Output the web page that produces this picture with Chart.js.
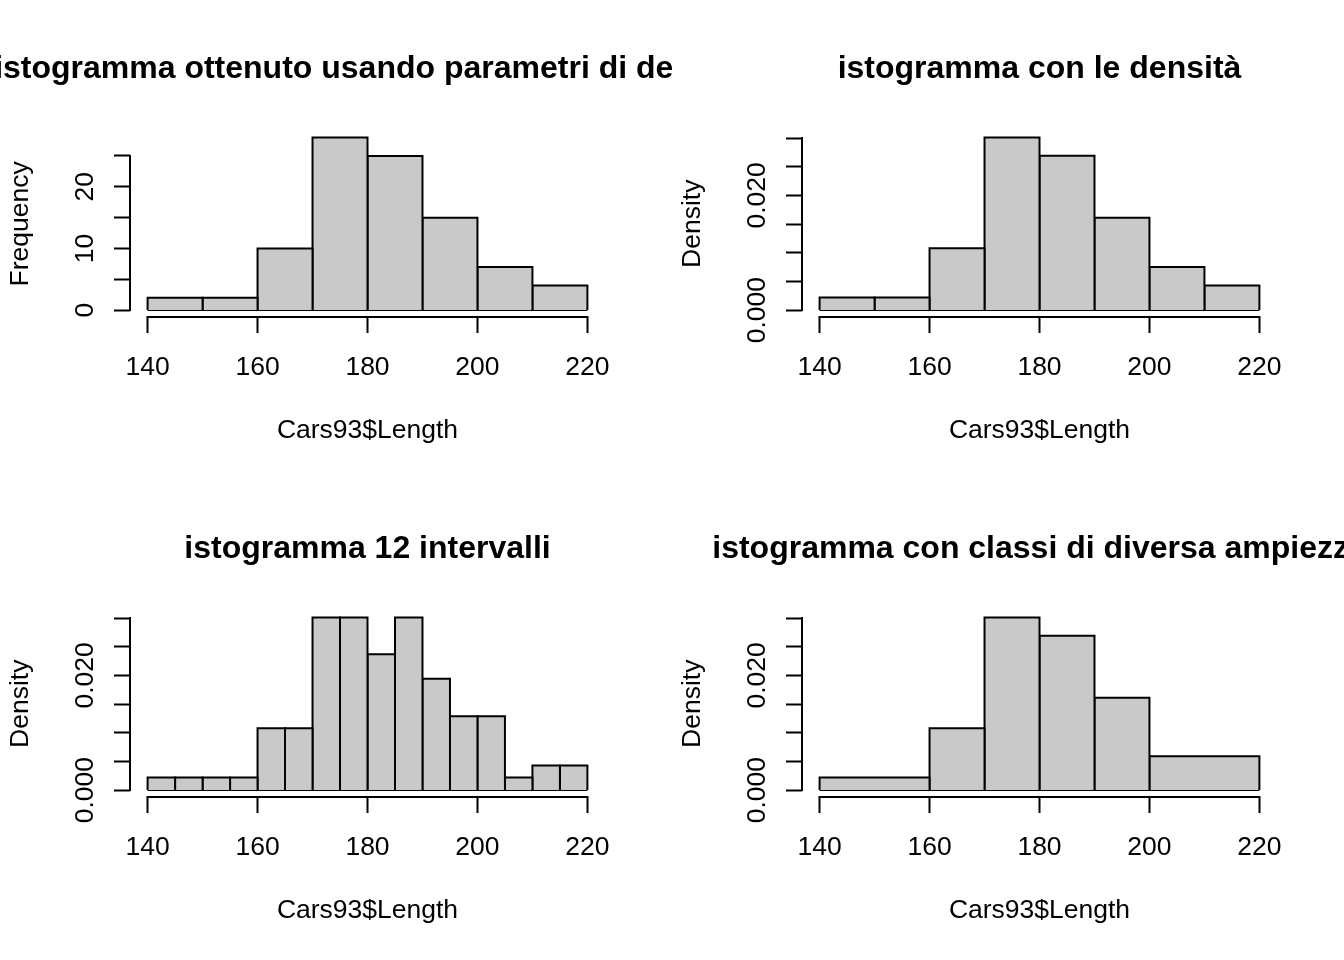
<!DOCTYPE html>
<html>
<head>
<meta charset="utf-8">
<script src="https://cdn.jsdelivr.net/npm/chart.js@4.4.0/dist/chart.umd.min.js"></script>
<style>
  body { margin: 0; background: #fff; }
  #grid { display: grid; grid-template-columns: 672px 672px; grid-template-rows: 480px 480px; width: 1344px; height: 960px; }
  canvas { display: block; }
</style>
</head>
<body>
<div id="grid">
  <canvas id="histDefault" width="672" height="480"></canvas>
  <canvas id="histDensity" width="672" height="480"></canvas>
  <canvas id="hist12" width="672" height="480"></canvas>
  <canvas id="histUneven" width="672" height="480"></canvas>
</div>
<script>
// class breaks (Cars93$Length)
const breaks10 = [140, 150, 160, 170, 180, 190, 200, 210, 220];
const breaks5 = [140, 145, 150, 155, 160, 165, 170, 175, 180, 185, 190, 195, 200, 205, 210, 215, 220];
const breaksUneven = [140, 160, 170, 180, 190, 200, 220];

// bar heights
const freq10 = [2, 2, 10, 28, 25, 15, 7, 4];
const dens10 = [0.0022, 0.0022, 0.0108, 0.0301, 0.0269, 0.0161, 0.0075, 0.0043];
const dens5 = [0.0022, 0.0022, 0.0022, 0.0022, 0.0108, 0.0108, 0.0301, 0.0301,
               0.0237, 0.0301, 0.0194, 0.0129, 0.0129, 0.0022, 0.0043, 0.0043];
const densUneven = [0.0022, 0.0108, 0.0301, 0.0269, 0.0161, 0.0059];

// axis ticks
const xTicks = [140, 160, 180, 200, 220];
const freqTicks = [0, 5, 10, 15, 20, 25];
const freqLabels = [0, 10, 20];
const densTicks = [0, 0.005, 0.01, 0.015, 0.02, 0.025, 0.03];
const densLabels = [0, 0.02];

const xTitle = 'Cars93$Length';
const titles = [
  'istogramma ottenuto usando parametri di default',
  'istogramma con le densità',
  'istogramma 12 intervalli',
  'istogramma con classi di diversa ampiezza'
];

const FONT = "'Liberation Sans', Arial, Helvetica, sans-serif";
Chart.defaults.font.family = FONT;
Chart.defaults.color = '#000';

// R style: detached axis lines, rotated y labels, main title
const rAxes = {
  id: 'rAxes',
  afterDraw(chart, args, opts) {
    const { ctx, chartArea: a, scales: { x, y } } = chart;
    ctx.save();
    ctx.strokeStyle = '#000';
    ctx.lineWidth = 2;
    ctx.beginPath();
    ctx.moveTo(x.getPixelForValue(xTicks[0]) - 1, a.bottom);
    ctx.lineTo(x.getPixelForValue(xTicks[xTicks.length - 1]) + 1, a.bottom);
    ctx.moveTo(a.left, y.getPixelForValue(opts.yTicks[0]) + 1);
    ctx.lineTo(a.left, y.getPixelForValue(opts.yTicks[opts.yTicks.length - 1]) - 1);
    ctx.stroke();

    ctx.fillStyle = '#000';
    ctx.font = '26.5px ' + FONT;
    ctx.textAlign = 'center';
    ctx.textBaseline = 'alphabetic';
    opts.yLabels.forEach(v => {
      ctx.save();
      ctx.translate(a.left - 37, y.getPixelForValue(v));
      ctx.rotate(-Math.PI / 2);
      ctx.fillText(v.toFixed(opts.decimals), 0, 0);
      ctx.restore();
    });

    ctx.font = 'bold 32px ' + FONT;
    ctx.textBaseline = 'middle';
    ctx.fillText(opts.title, (a.left + a.right) / 2, a.top - 61);
    ctx.restore();
  }
};

function makeHist(id, breaks, heights, yTicks, yLabels, decimals, yTitle, title) {
  const datasets = heights.map((h, i) => ({
    data: [
      { x: breaks[i], y: 0 }, { x: breaks[i], y: h },
      { x: breaks[i + 1], y: h }, { x: breaks[i + 1], y: 0 }
    ],
    showLine: true,
    fill: 'origin',
    backgroundColor: '#c9c9c9',
    borderColor: '#000',
    borderWidth: 2,
    pointRadius: 0,
    tension: 0
  }));
  // bottom edges of the bars
  datasets.push({
    data: [{ x: breaks[0], y: 0 }, { x: breaks[breaks.length - 1], y: 0 }],
    showLine: true, fill: false, borderColor: '#000', borderWidth: 2, pointRadius: 0
  });

  const xr = breaks[breaks.length - 1] - breaks[0];
  const top = Math.max(...heights);

  new Chart(document.getElementById(id), {
    type: 'scatter',
    data: { datasets },
    options: {
      responsive: false,
      animation: false,
      events: [],
      layout: { padding: { top: 130.6, right: 67, left: 0, bottom: 0 } },
      plugins: {
        legend: { display: false },
        tooltip: { enabled: false },
        rAxes: { yTicks, yLabels, decimals, title }
      },
      scales: {
        x: {
          type: 'linear',
          position: 'bottom',
          min: breaks[0] - 0.04 * xr,
          max: breaks[breaks.length - 1] + 0.04 * xr,
          afterBuildTicks: s => { s.ticks = xTicks.map(v => ({ value: v })); },
          afterFit: s => { s.height = 163; },
          grid: { drawOnChartArea: false, drawTicks: true, tickLength: 16, tickColor: '#000', tickWidth: 2 },
          border: { display: false },
          ticks: { color: '#000', font: { size: 26.5 }, padding: 19, maxRotation: 0, autoSkip: false },
          title: { display: true, text: xTitle, color: '#000', font: { size: 26.5 }, padding: { top: 0, bottom: 33 } }
        },
        y: {
          type: 'linear',
          position: 'left',
          min: -0.04 * top,
          max: 1.04 * top,
          afterBuildTicks: s => { s.ticks = yTicks.map(v => ({ value: v })); },
          afterFit: s => { s.width = 130; },
          grid: { drawOnChartArea: false, drawTicks: true, tickLength: 16, tickColor: '#000', tickWidth: 2 },
          border: { display: false },
          ticks: { display: false },
          title: { display: true, text: yTitle, color: '#000', font: { size: 26.5 }, padding: { top: 5, bottom: 0 } }
        }
      }
    },
    plugins: [rAxes]
  });
}

makeHist('histDefault', breaks10, freq10, freqTicks, freqLabels, 0, 'Frequency', titles[0]);
makeHist('histDensity', breaks10, dens10, densTicks, densLabels, 3, 'Density', titles[1]);
makeHist('hist12', breaks5, dens5, densTicks, densLabels, 3, 'Density', titles[2]);
makeHist('histUneven', breaksUneven, densUneven, densTicks, densLabels, 3, 'Density', titles[3]);
</script>
</body>
</html>
